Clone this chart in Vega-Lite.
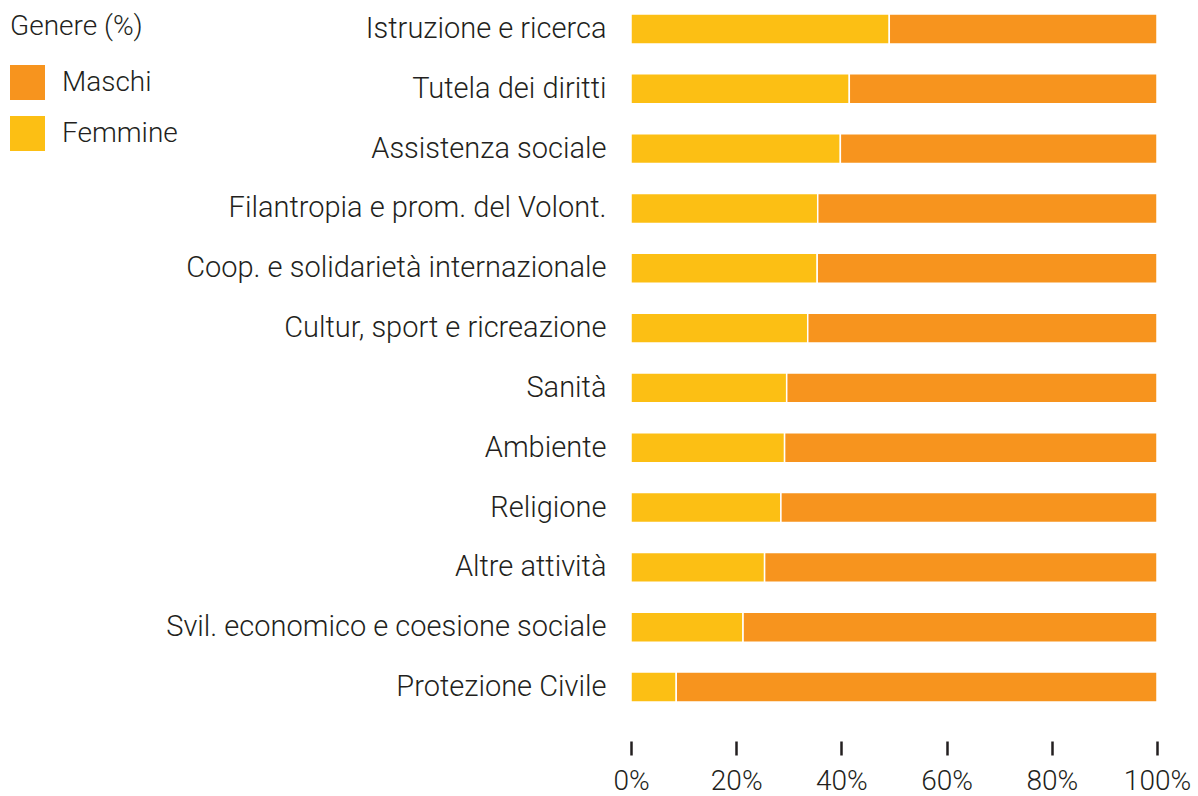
{
  "$schema": "https://vega.github.io/schema/vega-lite/v6.json",
  "autosize": {"type": "none"},
  "padding": {"left": 631, "top": 0, "right": 41, "bottom": 80},
  "width": 526,
  "height": 716,
  "background": "white",
  "config": {
    "view": {"stroke": null},
    "font": "Roboto",
    "axis": {"labelFont": "Roboto", "labelFontWeight": 300, "labelColor": "#231F20"},
    "legend": {"labelFont": "Roboto", "titleFont": "Roboto"}
  },
  "data": {
    "values": [
      {"categoria": "Istruzione e ricerca", "genere": "Femmine", "valore": 49.1},
      {"categoria": "Istruzione e ricerca", "genere": "Maschi", "valore": 50.9},
      {"categoria": "Tutela dei diritti", "genere": "Femmine", "valore": 41.5},
      {"categoria": "Tutela dei diritti", "genere": "Maschi", "valore": 58.5},
      {"categoria": "Assistenza sociale", "genere": "Femmine", "valore": 39.8},
      {"categoria": "Assistenza sociale", "genere": "Maschi", "valore": 60.2},
      {"categoria": "Filantropia e prom. del Volont.", "genere": "Femmine", "valore": 35.5},
      {"categoria": "Filantropia e prom. del Volont.", "genere": "Maschi", "valore": 64.5},
      {"categoria": "Coop. e solidarietà internazionale", "genere": "Femmine", "valore": 35.4},
      {"categoria": "Coop. e solidarietà internazionale", "genere": "Maschi", "valore": 64.6},
      {"categoria": "Cultur, sport e ricreazione", "genere": "Femmine", "valore": 33.6},
      {"categoria": "Cultur, sport e ricreazione", "genere": "Maschi", "valore": 66.4},
      {"categoria": "Sanità", "genere": "Femmine", "valore": 29.6},
      {"categoria": "Sanità", "genere": "Maschi", "valore": 70.4},
      {"categoria": "Ambiente", "genere": "Femmine", "valore": 29.2},
      {"categoria": "Ambiente", "genere": "Maschi", "valore": 70.8},
      {"categoria": "Religione", "genere": "Femmine", "valore": 28.5},
      {"categoria": "Religione", "genere": "Maschi", "valore": 71.5},
      {"categoria": "Altre attività", "genere": "Femmine", "valore": 25.4},
      {"categoria": "Altre attività", "genere": "Maschi", "valore": 74.6},
      {"categoria": "Svil. economico e coesione sociale", "genere": "Femmine", "valore": 21.3},
      {"categoria": "Svil. economico e coesione sociale", "genere": "Maschi", "valore": 78.7},
      {"categoria": "Protezione Civile", "genere": "Femmine", "valore": 8.6},
      {"categoria": "Protezione Civile", "genere": "Maschi", "valore": 91.4}
    ]
  },
  "mark": {"type": "bar", "stroke": "white", "strokeWidth": 1.5},
  "encoding": {
    "y": {
      "field": "categoria",
      "type": "nominal",
      "sort": null,
      "scale": {"paddingInner": 0.5, "paddingOuter": 0.235},
      "axis": {
        "title": null,
        "ticks": false,
        "domain": false,
        "labelFontSize": 29,
        "labelPadding": 25,
        "labelLimit": 600
      }
    },
    "x": {
      "field": "valore",
      "type": "quantitative",
      "stack": "zero",
      "scale": {"domain": [0, 100], "nice": false},
      "axis": {
        "title": null,
        "values": [0, 20, 40, 60, 80, 100],
        "labelExpr": "datum.value + '%'",
        "grid": false,
        "domain": false,
        "offset": 25,
        "tickSize": 14,
        "tickWidth": 2.5,
        "tickColor": "#231F20",
        "labelFontSize": 28,
        "labelPadding": 12,
        "labelFlush": false
      }
    },
    "color": {
      "field": "genere",
      "type": "nominal",
      "scale": {"domain": ["Maschi", "Femmine"], "range": ["#F7941E", "#FCBF14"]},
      "legend": {
        "title": "Genere (%)",
        "orient": "none",
        "legendX": -621,
        "legendY": 13,
        "titleFontSize": 28,
        "titleFontWeight": 300,
        "titleColor": "#231F20",
        "titlePadding": 24,
        "labelFontSize": 28,
        "labelFontWeight": 300,
        "labelColor": "#231F20",
        "labelOffset": 17,
        "symbolType": "square",
        "symbolSize": 1225,
        "symbolStrokeWidth": 0,
        "symbolOpacity": 1,
        "rowPadding": 16
      }
    },
    "order": {"field": "genere", "sort": "ascending"}
  }
}
